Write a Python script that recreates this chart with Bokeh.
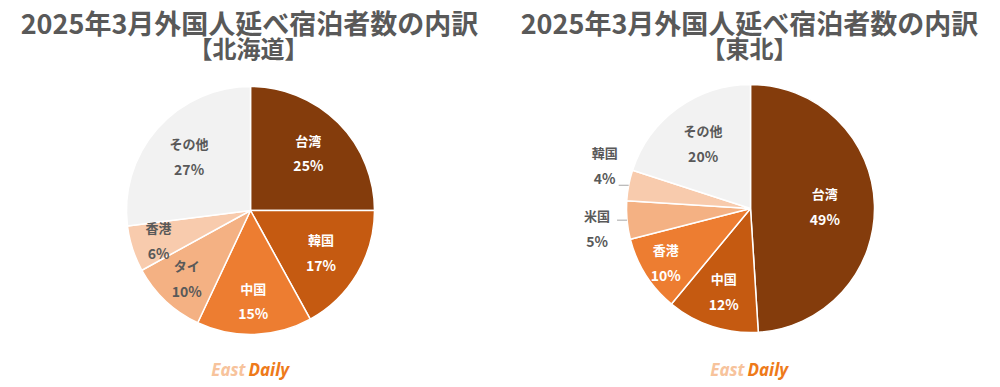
import math
from bokeh.plotting import figure
from bokeh.models import ColumnDataSource, Range1d
from bokeh.core.properties import value
from bokeh.embed import file_html
from bokeh.resources import INLINE

# ---------------- data ----------------
title_main = "2025年3月外国人延べ宿泊者数の内訳"
hokkaido_region = "【北海道】"
hokkaido_labels = ["台湾", "韓国", "中国", "タイ", "香港", "その他"]
hokkaido_values = [25, 17, 15, 10, 6, 27]

tohoku_region = "【東北】"
tohoku_labels = ["台湾", "中国", "香港", "米国", "韓国", "その他"]
tohoku_values = [49, 12, 10, 5, 4, 20]

logo_a = "East"
logo_b = "Daily"

# ---------------- style / layout ----------------
slice_colors = ["#843C0C", "#C55A11", "#ED7D31", "#F4B183", "#F8CBAD", "#F2F2F2"]
label_colors = ["#FFFFFF", "#FFFFFF", "#FFFFFF", "#595959", "#595959", "#595959"]
hokkaido_label_frac = [0.66, 0.66, 0.73, 0.75, 0.78, 0.66]
tohoku_label_frac = [0.60, 0.70, 0.81, None, None, 0.65]
# outside labels: (dx, dy) of label center from leader end (screen px)
tohoku_outside = {3: (-20, 8), 4: (-14, -20)}

FONT = "Noto Sans CJK JP"
GRAY = "#595959"
W, H = 1000, 387

p = figure(width=W, height=H, x_range=Range1d(0, W), y_range=Range1d(0, H),
           output_backend="svg", toolbar_location=None,
           x_axis_location=None, y_axis_location=None, min_border=0)
p.grid.visible = False
p.outline_line_color = None
p.background_fill_color = "white"
p.border_fill_color = "white"


def X(sx):
    return sx


def Y(sy):
    return H - sy


def add_text(xs, ys, texts, color, size, style="bold", align="center", font=FONT):
    src = ColumnDataSource(dict(x=xs, y=ys, t=texts))
    p.text(x="x", y="y", text="t", source=src, text_color=color,
           text_font=value(font), text_font_size=size, text_font_style=style,
           text_align=align, text_baseline="middle")


def draw_pie(cx, cy, r, labels, values, fracs, outside):
    total = float(sum(values))
    cum = 0.0
    starts, ends, mids = [], [], []
    for v in values:
        a0 = math.pi / 2 - 2 * math.pi * cum / total
        cum += v
        a1 = math.pi / 2 - 2 * math.pi * cum / total
        starts.append(a0)
        ends.append(a1)
        mids.append((a0 + a1) / 2)
    src = ColumnDataSource(dict(x=[X(cx)] * len(values), y=[Y(cy)] * len(values),
                                s=starts, e=ends, c=slice_colors[:len(values)]))
    p.wedge(x="x", y="y", radius=r, start_angle="s", end_angle="e",
            direction="clock", fill_color="c", line_color="white",
            line_width=1.5, source=src)
    for i, (lab, v, m) in enumerate(zip(labels, values, mids)):
        pct = f"{v}%"
        if i in outside:
            ex = cx + r * math.cos(m)
            ey = cy - r * math.sin(m)
            lx = ex - 10
            p.line([X(ex), X(lx)], [Y(ey), Y(ey)], line_color="#A6A6A6", line_width=1)
            dx, dy = outside[i]
            tx, ty = lx + dx, ey + dy
            add_text([X(tx)], [Y(ty - 13)], [lab], GRAY, "13px")
            add_text([X(tx)], [Y(ty + 13)], [pct], GRAY, "14px")
        else:
            f = fracs[i]
            tx = cx + r * f * math.cos(m)
            ty = cy - r * f * math.sin(m)
            add_text([X(tx)], [Y(ty - 12.5)], [lab], label_colors[i], "13px")
            add_text([X(tx)], [Y(ty + 12.5)], [pct], label_colors[i], "14px")


# titles
add_text([X(249), X(749)], [Y(22), Y(22)], [title_main, title_main], GRAY, "27px")
add_text([X(248), X(749)], [Y(47), Y(47)], [hokkaido_region, tohoku_region], GRAY, "24px")

# pies
draw_pie(250, 210, 124, hokkaido_labels, hokkaido_values, hokkaido_label_frac, {})
draw_pie(750, 208, 124, tohoku_labels, tohoku_values, tohoku_label_frac, tohoku_outside)

# logos
for cxl in (247, 746):
    add_text([X(cxl - 2)], [Y(369)], [logo_a], "#F7C39C", "17px", style="bold italic",
             align="right", font="Noto Sans")
    add_text([X(cxl + 1)], [Y(369)], [logo_b], "#EE7A1A", "17px", style="bold italic",
             align="left", font="Noto Sans")

open("out.html", "w").write(file_html(p, INLINE))
